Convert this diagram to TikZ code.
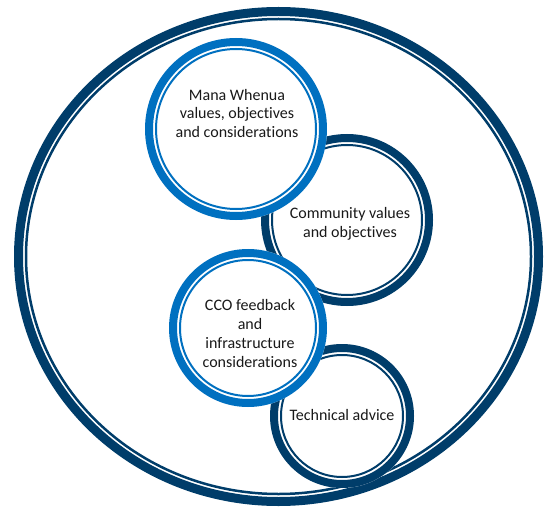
\documentclass[tikz,border=0pt]{standalone}
\usepackage{fontspec}
\setmainfont[Ligatures={NoCommon}]{Carlito}
\usetikzlibrary{positioning}

\definecolor{lightblue}{RGB}{0,112,192}
\definecolor{darkblue}{RGB}{0,61,106}

\tikzset{
  txt/.style={align=center, inner sep=0pt, text=black!90,
    font=\fontsize{16}{18.8}\selectfont},
}

\begin{document}
\begin{tikzpicture}[x=1pt, y=-1pt]
    \useasboundingbox (0,0) rectangle (546,508);

    \newcommand\band{}
    \def\band#1#2#3#4{%
      \fill[white] (#1,#2) circle [radius=#3];
      \draw[#4, line width=8pt] (#1,#2) circle [radius=#3-4];
      \draw[#4, line width=2pt] (#1,#2) circle [radius=#3-11];
    }

    % outer ring
    \draw[darkblue, line width=9pt] (278.5,256.5) ellipse [x radius=260, y radius=245];
    \draw[darkblue, line width=2.5pt] (278.5,256.5) ellipse [x radius=252.5, y radius=237.5];

    % dark rings first, light ones on top
    \band{342}{416}{72}{darkblue}
    \band{347}{220}{86}{darkblue}
    \band{248}{328}{79}{lightblue}
    \band{236}{129}{91}{lightblue}

    \node[txt] (mana) at (237,113.5) {Mana Whenua\\values, objectives\\and considerations};
    \node[txt] (community) at (350,224) {Community values\\and objectives};
    \node[txt] (cco) at (250,333.5) {CCO feedback\\and\\infrastructure\\considerations};
    \node[txt] (technical) at (342,415) {Technical advice};

  \end{tikzpicture}
\end{document}
